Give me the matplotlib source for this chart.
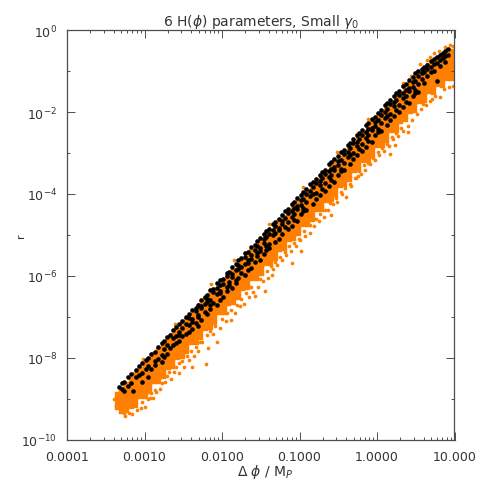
import matplotlib
matplotlib.use('Agg')
import matplotlib.pyplot as plt

# values are log10(delta phi) with the log10(r) read in that column
orange_core = [
    (-3.36, [-8.87, -8.98, -9.09, -9.20]),
    (-3.30, [-8.75, -8.86, -8.97, -9.08, -9.19, -9.30]),
    (-3.24, [-8.63, -8.74, -8.85, -8.96, -9.07, -9.18, -9.28]),
    (-3.18, [-8.51, -8.62, -8.73, -8.84, -8.95, -9.06, -9.17]),
    (-3.12, [-8.39, -8.50, -8.61, -8.72, -8.83, -8.94, -9.05, -9.15]),
    (-3.06, [-8.27, -8.39, -8.49, -8.60, -8.71, -8.82, -8.93]),
    (-3.00, [-8.15, -8.26, -8.38, -8.48, -8.59, -8.70, -8.82, -8.92]),
    (-2.94, [-8.03, -8.15, -8.25, -8.36, -8.48, -8.58, -8.69, -8.80]),
    (-2.88, [-7.91, -8.02, -8.13, -8.25, -8.35, -8.46, -8.57]),
    (-2.82, [-7.80, -7.90, -8.01, -8.12, -8.24, -8.34, -8.45, -8.56]),
    (-2.76, [-7.67, -7.78, -7.90, -8.00, -8.11, -8.22, -8.34, -8.44]),
    (-2.70, [-7.55, -7.66, -7.77, -7.89, -7.99, -8.10, -8.21]),
    (-2.64, [-7.43, -7.55, -7.65, -7.76, -7.88, -7.98, -8.09, -8.20]),
    (-2.58, [-7.31, -7.42, -7.54, -7.64, -7.75, -7.86, -7.98]),
    (-2.52, [-7.19, -7.30, -7.41, -7.53, -7.63, -7.74, -7.85, -7.96]),
    (-2.46, [-7.07, -7.19, -7.29, -7.40, -7.52, -7.62, -7.73, -7.84]),
    (-2.40, [-6.95, -7.06, -7.18, -7.28, -7.39, -7.50, -7.62]),
    (-2.34, [-6.83, -6.94, -7.05, -7.17, -7.27, -7.38, -7.49, -7.60]),
    (-2.28, [-6.71, -6.83, -6.93, -7.04, -7.16, -7.26, -7.37, -7.48]),
    (-2.22, [-6.59, -6.70, -6.82, -6.92, -7.03, -7.14, -7.26]),
    (-2.16, [-6.47, -6.58, -6.69, -6.81, -6.91, -7.02, -7.13, -7.24]),
    (-2.10, [-6.35, -6.46, -6.58, -6.68, -6.79, -6.90, -7.02, -7.12]),
    (-2.04, [-6.23, -6.35, -6.45, -6.56, -6.68, -6.78, -6.89]),
    (-1.98, [-6.11, -6.22, -6.33, -6.45, -6.55, -6.66, -6.77, -6.88]),
    (-1.92, [-5.99, -6.10, -6.22, -6.32, -6.43, -6.54, -6.66]),
    (-1.86, [-5.87, -5.99, -6.09, -6.20, -6.32, -6.42, -6.53, -6.64]),
    (-1.80, [-5.75, -5.86, -5.97, -6.09, -6.19, -6.30, -6.41, -6.52]),
    (-1.74, [-5.63, -5.74, -5.86, -5.96, -6.07, -6.18, -6.30]),
    (-1.68, [-5.51, -5.63, -5.73, -5.84, -5.96, -6.06, -6.17, -6.28]),
    (-1.62, [-5.39, -5.50, -5.61, -5.73, -5.83, -5.94, -6.05]),
    (-1.56, [-5.27, -5.38, -5.50, -5.60, -5.71, -5.82, -5.94, -6.04]),
    (-1.50, [-5.15, -5.27, -5.37, -5.48, -5.60, -5.70, -5.81, -5.92]),
    (-1.44, [-5.03, -5.14, -5.25, -5.37, -5.47, -5.58, -5.69]),
    (-1.38, [-4.91, -5.02, -5.14, -5.24, -5.35, -5.46, -5.58, -5.68]),
    (-1.32, [-4.79, -4.91, -5.01, -5.12, -5.24, -5.34, -5.45, -5.56]),
    (-1.26, [-4.67, -4.78, -4.89, -5.01, -5.11, -5.22, -5.33]),
    (-1.20, [-4.55, -4.66, -4.78, -4.88, -4.99, -5.10, -5.22, -5.32]),
    (-1.14, [-4.43, -4.55, -4.65, -4.76, -4.88, -4.98, -5.09]),
    (-1.08, [-4.31, -4.42, -4.53, -4.65, -4.75, -4.86, -4.97, -5.08]),
    (-1.02, [-4.19, -4.30, -4.42, -4.52, -4.63, -4.74, -4.86, -4.96]),
    (-0.96, [-4.07, -4.19, -4.29, -4.40, -4.52, -4.62, -4.73]),
    (-0.90, [-3.95, -4.06, -4.17, -4.29, -4.39, -4.50, -4.61, -4.72]),
    (-0.84, [-3.83, -3.94, -4.06, -4.16, -4.27, -4.38, -4.50, -4.60]),
    (-0.78, [-3.71, -3.83, -3.93, -4.04, -4.16, -4.26, -4.37]),
    (-0.72, [-3.59, -3.70, -3.81, -3.93, -4.03, -4.14, -4.25, -4.36]),
    (-0.66, [-3.47, -3.58, -3.70, -3.80, -3.91, -4.02, -4.14]),
    (-0.60, [-3.35, -3.47, -3.57, -3.68, -3.80, -3.90, -4.01, -4.12]),
    (-0.54, [-3.23, -3.34, -3.45, -3.57, -3.67, -3.78, -3.89, -4.00]),
    (-0.48, [-3.11, -3.22, -3.34, -3.44, -3.55, -3.66, -3.78]),
    (-0.42, [-2.99, -3.11, -3.21, -3.32, -3.44, -3.54, -3.65, -3.76]),
    (-0.36, [-2.87, -2.98, -3.09, -3.21, -3.31, -3.42, -3.53, -3.64]),
    (-0.30, [-2.75, -2.86, -2.98, -3.08, -3.19, -3.30, -3.42]),
    (-0.24, [-2.63, -2.75, -2.85, -2.96, -3.08, -3.18, -3.29, -3.40]),
    (-0.18, [-2.51, -2.62, -2.73, -2.85, -2.95, -3.06, -3.17]),
    (-0.12, [-2.39, -2.50, -2.62, -2.72, -2.83, -2.94, -3.06, -3.16]),
    (-0.06, [-2.27, -2.39, -2.49, -2.60, -2.72, -2.82, -2.93, -3.04]),
    (0.00, [-2.15, -2.26, -2.37, -2.49, -2.59, -2.70, -2.81]),
    (0.06, [-2.03, -2.14, -2.26, -2.36, -2.47, -2.58, -2.70, -2.80]),
    (0.12, [-1.91, -2.03, -2.13, -2.24, -2.36, -2.46, -2.57, -2.68]),
    (0.18, [-1.79, -1.90, -2.01, -2.13, -2.23, -2.34, -2.45]),
    (0.24, [-1.67, -1.78, -1.90, -2.00, -2.11, -2.22, -2.34, -2.44]),
    (0.30, [-1.55, -1.67, -1.77, -1.88, -2.00, -2.10, -2.21]),
    (0.36, [-1.43, -1.54, -1.65, -1.77, -1.87, -1.98, -2.09, -2.18]),
    (0.42, [-1.31, -1.42, -1.54, -1.64, -1.75, -1.86, -1.97]),
    (0.48, [-1.20, -1.31, -1.41, -1.52, -1.63, -1.74, -1.84, -1.94]),
    (0.54, [-1.06, -1.18, -1.29, -1.40, -1.50, -1.61, -1.72]),
    (0.60, [-0.96, -1.07, -1.18, -1.28, -1.39, -1.50, -1.60, -1.70]),
    (0.66, [-0.86, -0.97, -1.07, -1.18, -1.28, -1.38, -1.49]),
    (0.72, [-0.77, -0.87, -0.98, -1.08, -1.19, -1.29, -1.40, -1.52]),
    (0.78, [-0.68, -0.79, -0.89, -1.00, -1.10, -1.20, -1.31]),
    (0.84, [-0.62, -0.72, -0.82, -0.92, -1.02, -1.12, -1.22, -1.33]),
    (0.90, [-0.58, -0.68, -0.78, -0.88, -0.97, -1.06, -1.16]),
    (0.96, [-0.50, -0.60, -0.70, -0.80, -0.90, -0.99, -1.08, -1.18]),
]

# loose orange points along the edges of the band
orange_fringe = [
    (-3.37, -9.17), (-3.35, -9.05), (-3.39, -9.00), (-3.25, -9.41), (-3.26, -9.33),
    (-3.16, -9.37), (-3.10, -9.27), (-3.05, -9.22), (-2.99, -9.20), (-3.20, -9.34),
    (-3.03, -9.08), (-2.96, -9.00), (-2.91, -8.86), (-2.89, -8.98), (-2.86, -8.78),
    (-2.93, -8.98), (-2.85, -8.84), (-2.80, -8.76), (-2.73, -8.58), (-2.66, -8.52),
    (-2.78, -8.60), (-2.71, -8.44), (-2.68, -8.33), (-2.60, -8.22), (-2.56, -8.12),
    (-2.62, -8.35), (-2.55, -8.36), (-2.49, -8.22), (-2.39, -8.22), (-2.43, -8.05),
    (-2.51, -8.08), (-2.45, -7.96), (-2.40, -7.82), (-2.33, -7.72), (-2.29, -7.61),
    (-2.36, -7.95), (-2.31, -7.83), (-2.18, -7.76), (-2.06, -7.61), (-2.21, -8.15),
    (-2.26, -7.62), (-2.12, -7.42), (-2.02, -7.28), (-1.95, -7.10), (-1.89, -7.08),
    (-2.20, -7.44), (-2.15, -7.33), (-2.09, -7.22), (-2.00, -7.04), (-1.93, -6.90),
    (-1.83, -6.90), (-1.77, -6.74), (-1.71, -6.68), (-1.65, -6.50), (-1.57, -6.49),
    (-1.88, -6.82), (-1.81, -6.70), (-1.75, -6.55), (-1.69, -6.42), (-1.63, -6.26),
    (-1.60, -6.38), (-1.53, -6.28), (-1.45, -6.37), (-1.47, -6.12), (-1.41, -6.05),
    (-1.51, -6.08), (-1.42, -5.88), (-1.37, -5.76), (-1.31, -5.66), (-1.25, -5.53),
    (-1.34, -5.83), (-1.35, -5.98), (-1.29, -5.74), (-1.23, -5.62), (-1.17, -5.48),
    (-1.13, -5.28), (-1.19, -5.42), (-1.07, -5.20), (-1.01, -5.10), (-0.94, -4.90),
    (-1.10, -5.68), (-1.11, -5.38), (-1.05, -5.26), (-0.98, -5.39), (-0.99, -5.12),
    (-0.93, -5.02), (-0.87, -4.94), (-0.81, -4.78), (-0.75, -4.66), (-0.69, -4.55),
    (-0.86, -4.76), (-0.79, -4.60), (-0.73, -4.48), (-0.67, -4.38), (-0.61, -4.22),
    (-0.63, -4.38), (-0.59, -4.51), (-0.57, -4.25), (-0.51, -4.20), (-0.45, -4.00),
    (-0.53, -4.10), (-0.47, -3.94), (-0.41, -3.86), (-0.35, -3.75), (-0.29, -3.60),
    (-0.40, -4.08), (-0.33, -3.80), (-0.27, -3.62), (-0.25, -3.56), (-0.21, -3.50),
    (-0.17, -3.30), (-0.23, -3.44), (-0.11, -3.24), (-0.05, -3.12), (0.01, -2.98),
    (-0.15, -3.42), (-0.09, -3.26), (-0.03, -3.18), (0.03, -3.05), (0.09, -2.95),
    (0.07, -2.88), (0.13, -2.78), (0.19, -2.62), (0.25, -2.52), (0.31, -2.38),
    (0.17, -3.02), (0.15, -2.82), (0.23, -2.80), (0.21, -2.66), (0.27, -2.58),
    (0.33, -2.46), (0.40, -2.49), (0.40, -2.34), (0.45, -2.20), (0.51, -2.05),
    (0.59, -1.80), (0.57, -1.92), (0.63, -1.82), (0.71, -1.68), (0.69, -1.74),
    (0.75, -1.62), (0.81, -1.63), (0.87, -1.44), (0.93, -1.40), (0.98, -1.37),
    (-3.02, -8.02), (-2.61, -7.18), (-2.14, -6.20), (-1.84, -5.62), (-1.40, -4.74),
    (-0.95, -3.84), (-0.52, -2.98), (-0.11, -2.18), (0.33, -1.30), (0.56, -0.82),
    (0.69, -0.66), (0.80, -0.50), (0.88, -0.42), (0.94, -0.36), (0.98, -0.40),
    (0.52, -1.00), (0.44, -1.12), (0.64, -0.74), (0.74, -0.56), (0.98, -0.62),
]

black_points = [
    (-3.33, [-8.70]), (-3.29, [-8.62, -8.75]), (-3.26, [-8.58, -8.81]), (-3.21, [-8.47, -8.68]),
    (-3.17, [-8.39, -8.60]), (-3.15, [-8.80]), (-3.11, [-8.30, -8.46]), (-3.07, [-8.20, -8.42]),
    (-3.03, [-8.12, -8.37, -8.58]), (-2.98, [-8.04, -8.28]), (-2.95, [-8.00, -8.19, -8.46]),
    (-2.91, [-7.90, -8.26]), (-2.87, [-7.85, -8.08, -8.17]), (-2.83, [-7.73, -8.03]),
    (-2.78, [-7.64, -7.92, -8.10]), (-2.75, [-7.58, -7.79, -7.98]), (-2.71, [-7.49, -7.68, -7.90]),
    (-2.67, [-7.44, -7.75]), (-2.63, [-7.32, -7.52, -7.69]), (-2.59, [-7.25, -7.47, -7.64]),
    (-2.55, [-7.18, -7.36, -7.44, -7.58]), (-2.51, [-7.09, -7.28, -7.47]), (-2.47, [-7.00, -7.18, -7.41]),
    (-2.43, [-6.93, -7.02, -7.19, -7.36]), (-2.39, [-6.82, -7.05, -7.11, -7.30]),
    (-2.34, [-6.77, -6.85, -7.14]), (-2.31, [-6.70, -6.94, -7.00, -7.21]),
    (-2.27, [-6.58, -6.73, -6.79, -7.08]), (-2.22, [-6.50, -6.69, -6.88]),
    (-2.19, [-6.47, -6.55, -6.64, -6.93]), (-2.15, [-6.34, -6.58, -6.71, -6.80]),
    (-2.11, [-6.31, -6.39, -6.66]), (-2.06, [-6.17, -6.29, -6.44, -6.70]),
    (-2.03, [-6.10, -6.23, -6.36, -6.41, -6.58]), (-1.99, [-6.07, -6.19, -6.50]),
    (-1.94, [-5.93, -6.01, -6.26, -6.37]), (-1.91, [-5.90, -6.14, -6.22]),
    (-1.87, [-5.78, -5.95, -6.03, -6.29]), (-1.82, [-5.70, -5.86, -6.09, -6.16]),
    (-1.79, [-5.61, -5.74, -5.83, -6.05]), (-1.75, [-5.57, -5.79, -5.92]),
    (-1.70, [-5.45, -5.53, -5.71, -5.98]), (-1.67, [-5.41, -5.62, -5.68, -5.85]),
    (-1.63, [-5.30, -5.49, -5.58, -5.80]), (-1.58, [-5.24, -5.37, -5.65]),
    (-1.55, [-5.14, -5.28, -5.44, -5.52]), (-1.51, [-5.08, -5.31, -5.39, -5.60]),
    (-1.46, [-4.98, -5.10, -5.19, -5.47]), (-1.43, [-4.90, -5.05, -5.28, -5.36]),
    (-1.39, [-4.86, -4.97, -5.21, -5.32]), (-1.34, [-4.73, -4.89, -5.01]),
    (-1.31, [-4.68, -4.78, -4.94, -5.18]), (-1.27, [-4.60, -4.83, -4.87, -5.09]),
    (-1.22, [-4.50, -4.65, -4.72, -4.97]), (-1.19, [-4.42, -4.59, -4.81]),
    (-1.15, [-4.37, -4.47, -4.69, -4.86]), (-1.10, [-4.24, -4.41, -4.55, -4.78]),
    (-1.07, [-4.19, -4.33, -4.49, -4.63]), (-1.03, [-4.10, -4.30, -4.37, -4.66]),
    (-0.98, [-4.03, -4.15, -4.26, -4.49]), (-0.95, [-3.94, -4.12, -4.34, -4.41]),
    (-0.91, [-3.88, -3.99, -4.20, -4.38]), (-0.86, [-3.76, -3.93, -4.06]),
    (-0.83, [-3.71, -3.84, -4.01, -4.24]), (-0.79, [-3.63, -3.72, -3.97, -4.11]),
    (-0.74, [-3.53, -3.68, -3.78, -4.02]), (-0.71, [-3.46, -3.62, -3.87]),
    (-0.67, [-3.41, -3.51, -3.74, -3.92]), (-0.62, [-3.28, -3.45, -3.59, -3.81]),
    (-0.59, [-3.23, -3.38, -3.53, -3.67]), (-0.55, [-3.14, -3.34, -3.41, -3.70]),
    (-0.50, [-3.07, -3.20, -3.30, -3.53]), (-0.47, [-2.98, -3.16, -3.38, -3.45]),
    (-0.43, [-2.92, -3.03, -3.24, -3.42]), (-0.38, [-2.80, -2.97, -3.10]),
    (-0.35, [-2.75, -2.88, -3.05, -3.28]), (-0.31, [-2.67, -2.76, -3.01, -3.15]),
    (-0.26, [-2.57, -2.72, -2.82, -3.06]), (-0.23, [-2.50, -2.66, -2.91]),
    (-0.19, [-2.45, -2.55, -2.78, -2.96]), (-0.14, [-2.32, -2.49, -2.63, -2.85]),
    (-0.11, [-2.27, -2.42, -2.57, -2.71]), (-0.07, [-2.18, -2.38, -2.45, -2.74]),
    (-0.02, [-2.11, -2.24, -2.34, -2.57]), (0.01, [-2.02, -2.20, -2.42, -2.49]),
    (0.05, [-1.96, -2.07, -2.28, -2.46]), (0.10, [-1.84, -2.01, -2.14]),
    (0.13, [-1.79, -1.92, -2.09, -2.32]), (0.17, [-1.71, -1.80, -2.05, -2.19]),
    (0.22, [-1.61, -1.76, -1.86, -2.10]), (0.25, [-1.54, -1.70, -1.95]),
    (0.29, [-1.49, -1.59, -1.82, -2.00]), (0.34, [-1.36, -1.53, -1.67, -1.89]),
    (0.37, [-1.31, -1.46, -1.61, -1.75]), (0.41, [-1.22, -1.42, -1.49, -1.78]),
    (0.46, [-1.15, -1.28, -1.38, -1.61]), (0.49, [-1.06, -1.24, -1.46, -1.53]),
    (0.53, [-1.01, -1.12, -1.32, -1.50]), (0.58, [-0.94, -1.06, -1.19]),
    (0.61, [-0.91, -1.02, -1.30]), (0.65, [-0.85, -0.96, -1.13]),
    (0.70, [-0.76, -0.90, -1.03]), (0.73, [-0.71, -0.84, -0.99]),
    (0.77, [-0.65, -0.80, -1.24]), (0.81, [-0.61, -0.72, -0.88]),
    (0.85, [-0.55, -0.69]), (0.88, [-0.52, -0.63, -0.77]), (0.92, [-0.47, -0.60]),
]

x_tick_vals = [1e-4, 1e-3, 1e-2, 1e-1, 1, 10]
x_tick_labels = ['0.0001', '0.0010', '0.0100', '0.1000', '1.0000', '10.000']
x_minor_mult = [2, 3, 4, 5, 6, 7, 8, 9]
y_tick_vals = [1e-10, 1e-8, 1e-6, 1e-4, 1e-2, 1]
y_tick_labels = ['$10^{-10}$', '$10^{-8}$', '$10^{-6}$', '$10^{-4}$', '$10^{-2}$', '$10^{0}$']
y_minor_vals = [1e-9, 1e-7, 1e-5, 1e-3, 1e-1]

orange_x = []
orange_y = []
for x, ys in orange_core:
    orange_x += [10 ** x] * len(ys)
    orange_y += [10 ** y for y in ys]
fringe_x = [10 ** p[0] for p in orange_fringe]
fringe_y = [10 ** p[1] for p in orange_fringe]
black_x = []
black_y = []
for x, ys in black_points:
    black_x += [10 ** x] * len(ys)
    black_y += [10 ** y for y in ys]

size = 485
grey = '#4d4d4d'
fig = plt.figure(figsize=(size / 100, size / 100), dpi=100)
ax = fig.add_axes([67 / size, 1 - 441 / size, 387.5 / size, 410 / size])

core = ax.scatter(orange_x, orange_y, s=15, marker='s', color='#ff7f00', linewidths=0)
edge = ax.scatter(fringe_x, fringe_y, s=7, marker='o', color='#ff8000', linewidths=0)
dots = ax.scatter(black_x, black_y, s=11, marker='o', color='black', linewidths=0)
for c in (core, edge, dots):
    c.set_snap(False)

ax.set_xscale('log')
ax.set_yscale('log')
ax.set_xlim(1e-4, 10)
ax.set_ylim(1e-10, 1)
ax.set_xticks(x_tick_vals)
ax.set_xticklabels(x_tick_labels)
ax.set_xticks([t * m for t in x_tick_vals[:-1] for m in x_minor_mult], minor=True)
ax.set_xticklabels([], minor=True)
ax.set_yticks(y_tick_vals)
ax.set_yticklabels(y_tick_labels)
ax.set_yticks(y_minor_vals, minor=True)
ax.set_yticklabels([], minor=True)

ax.tick_params(which='major', direction='in', top=True, right=True, length=5.5, width=0.7,
               color=grey, labelcolor='#333333', labelsize=9, pad=7)
ax.tick_params(which='minor', direction='in', top=True, right=True, length=2.5, width=0.7, color=grey)
for s in ax.spines.values():
    s.set_color(grey)
    s.set_linewidth(0.9)

ax.set_title(r'6 H($\phi$) parameters, Small $\gamma_0$', fontsize=10, color='#333333', pad=3)
fig.text(265 / size, 1 - 472 / size, r'$\Delta$ $\phi$ / M$_P$', fontsize=10, color='#333333', ha='center', va='center')
fig.text(21 / size, 1 - 236 / size, 'r', fontsize=8, color='#333333', rotation=90, ha='center', va='center')

fig.savefig('out.png', dpi=100)
